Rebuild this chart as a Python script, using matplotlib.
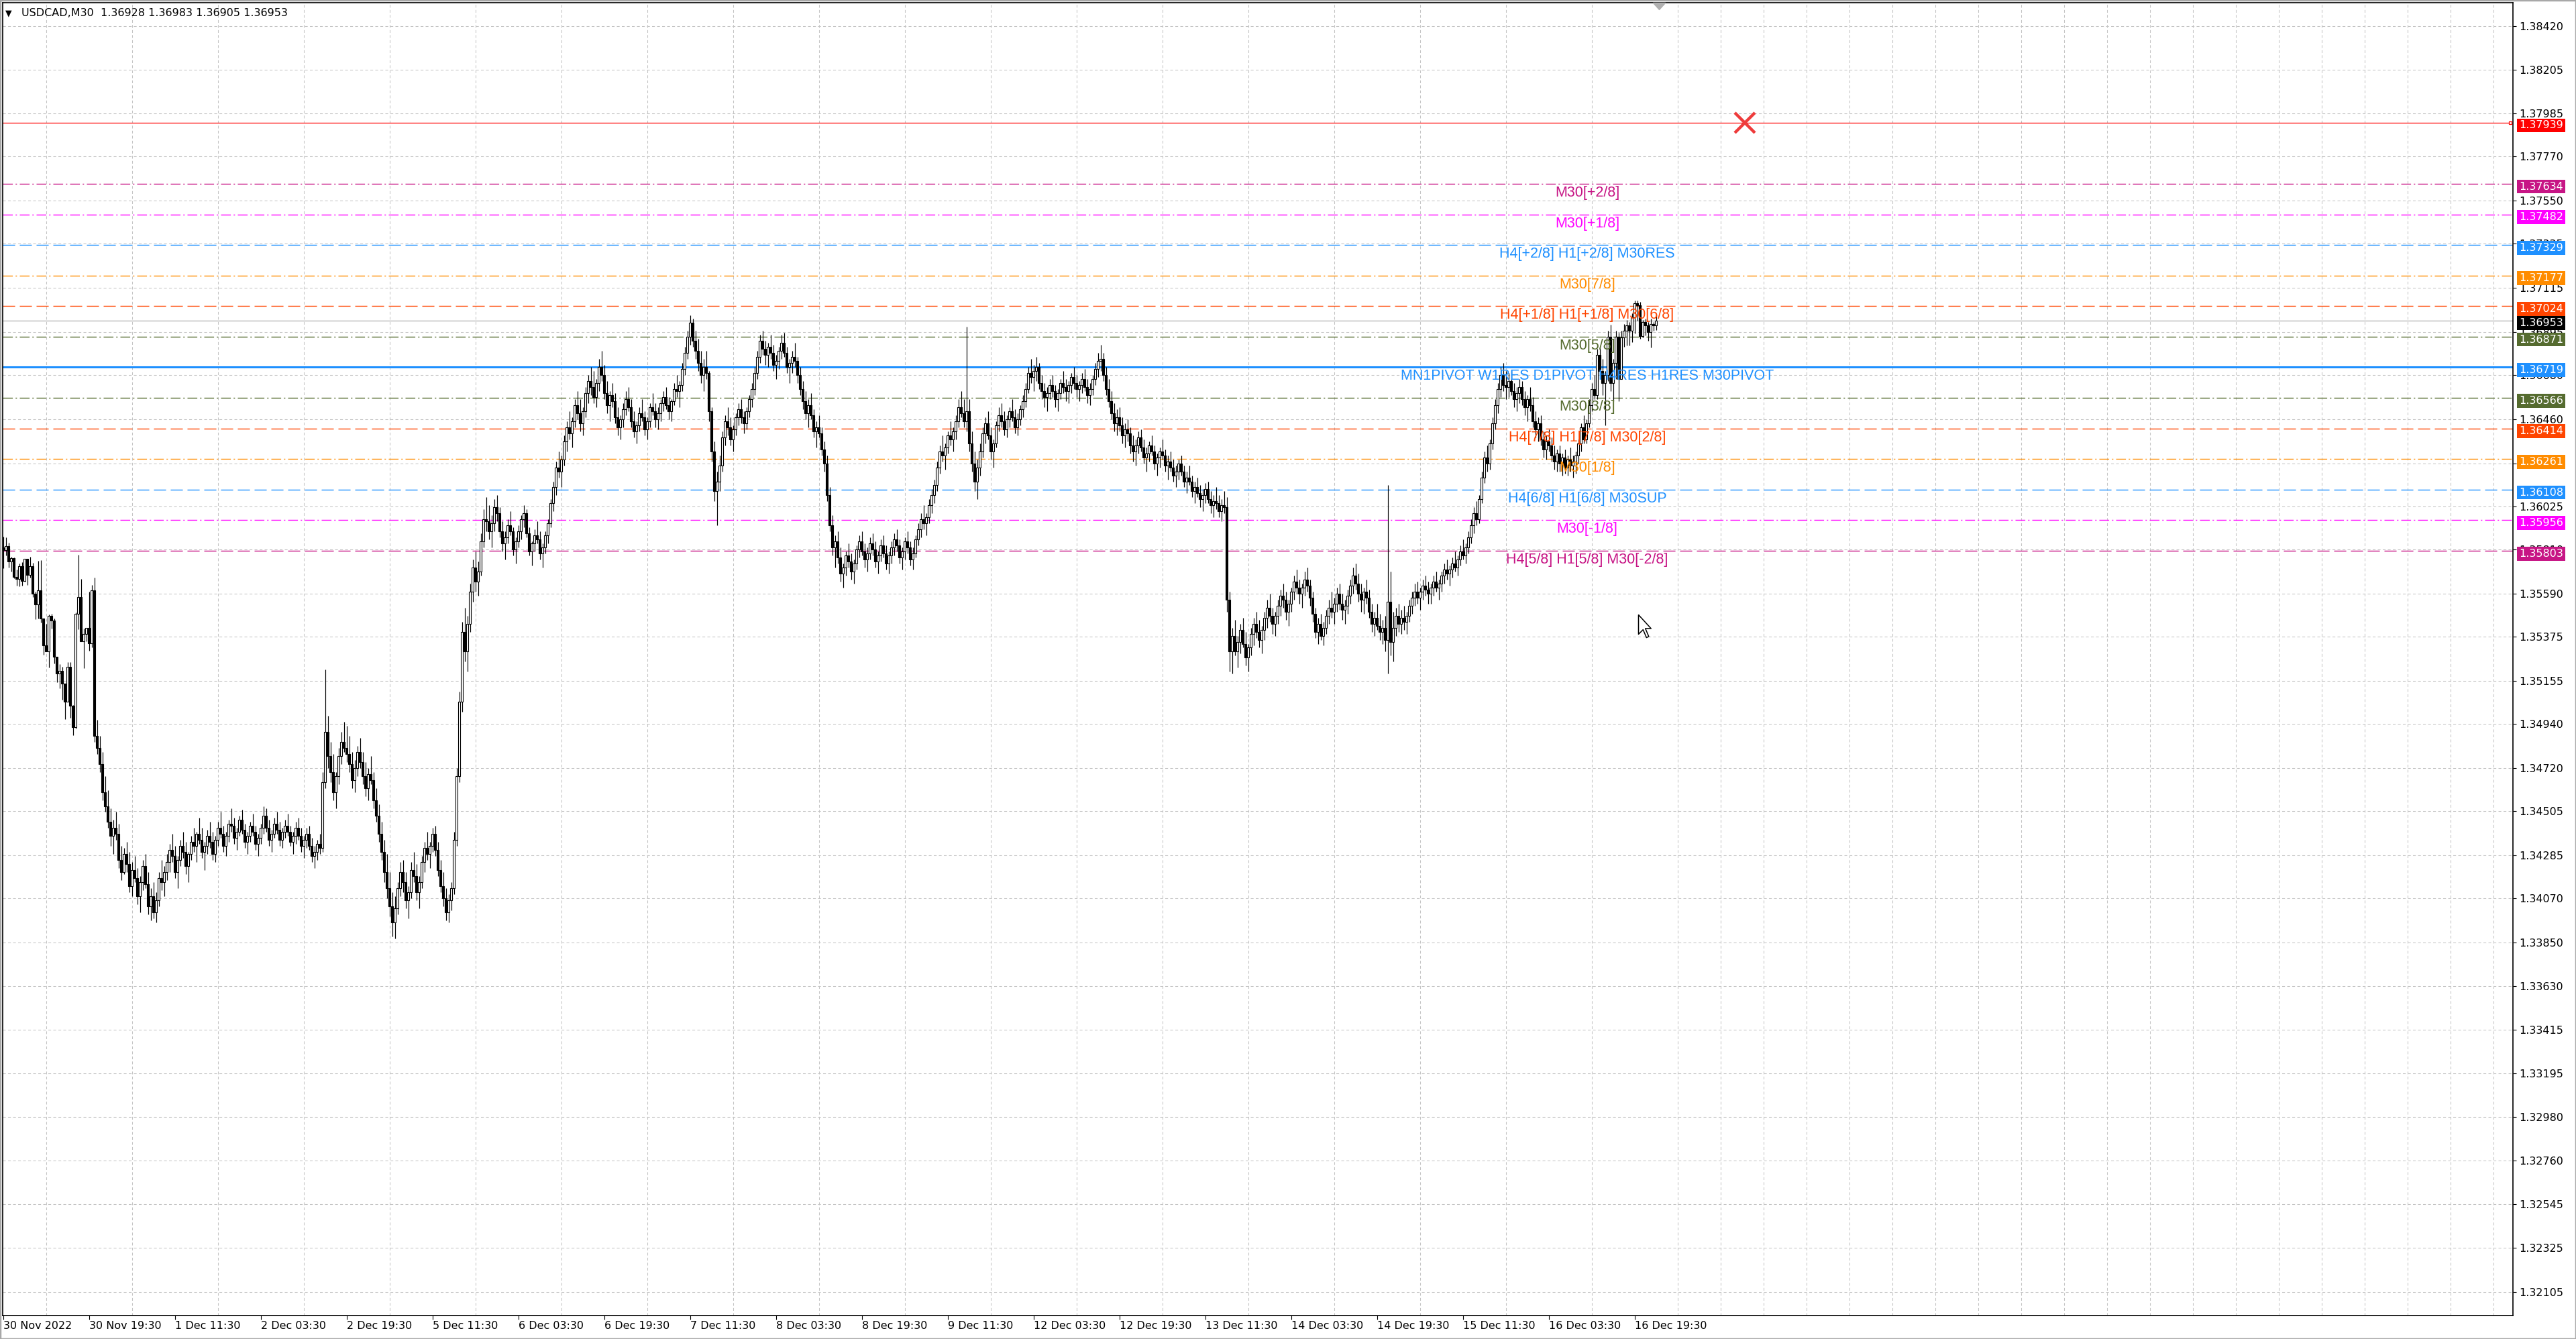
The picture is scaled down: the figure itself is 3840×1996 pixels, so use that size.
import matplotlib
matplotlib.use("Agg")
import matplotlib.pyplot as plt
import matplotlib.transforms as mtransforms
from matplotlib import font_manager
from matplotlib.path import Path
import numpy as np

# USDCAD M30 candles, 617 bars. Values are points above 1.30000 (1 point = 0.00001).
# Open of each bar = close of the bar before it.
first_open = 5819
closes = [
    # 0-33
    5807, 5827, 5749, 5767, 5673, 5662, 5727, 5654, 5763, 5682, 5727, 5589, 5537, 5607, 5467, 5333, 5303,
    5478, 5454, 5274, 5192, 5205, 5140, 5052, 5225, 5032, 4923, 5489, 5573, 5352, 5389, 5419, 5341, 5607,
    # 34-60
    4880, 4820, 4740, 4600, 4530, 4450, 4380, 4420, 4390, 4260, 4200, 4290,
    4240, 4130, 4210, 4170, 4080, 4150, 4230, 4140, 4030, 4080, 4000, 4060, 4170, 4150, 4200,
    # 61-118
    4250, 4310, 4280, 4200, 4260, 4330, 4300, 4230, 4290, 4350, 4330, 4390, 4360, 4300, 4330, 4380, 4350, 4290,
    4360, 4420, 4390, 4330, 4380, 4440, 4430, 4370, 4400, 4460, 4410, 4350, 4380, 4430, 4400, 4340, 4370, 4420,
    4480, 4420, 4360, 4390, 4440, 4410, 4360, 4400, 4430, 4400, 4350, 4380, 4420, 4380, 4330, 4360, 4390, 4330,
    4280, 4300, 4340, 4320,
    # 119-167
    4650, 4900, 4780, 4700, 4600, 4680, 4780, 4850, 4820, 4790, 4740, 4660, 4720, 4800, 4750, 4680, 4620, 4690,
    4660, 4560, 4480, 4390, 4300, 4200, 4120, 4030, 3950, 4020, 4120, 4200, 4150, 4060, 4100, 4210, 4180, 4100,
    4150, 4250, 4320, 4290, 4330, 4390, 4310, 4210, 4130, 4070, 4000, 4060, 4120,
    # 168-199
    4360, 4680, 5050, 5400, 5300, 5440, 5600, 5720, 5650, 5700, 5850, 5960, 5950, 5900, 5940, 6020,
    5990, 5900, 5840, 5870, 5930, 5900, 5810, 5850, 5900, 5960, 5990, 5890, 5800, 5840, 5880, 5860,
    # 200-244
    5790, 5820, 5880, 5940, 6040, 6120, 6220, 6200, 6260, 6350, 6420, 6390, 6450, 6530, 6490, 6440, 6500, 6590,
    6650, 6620, 6570, 6640, 6720, 6680, 6590, 6530, 6580, 6550,
    6470, 6420, 6460, 6510, 6560, 6520, 6450, 6400, 6430, 6490, 6470, 6410, 6450, 6520, 6500, 6460, 6490,
    # 245-306
    6540, 6570, 6530, 6500, 6550, 6610, 6600, 6630, 6710, 6790, 6870, 6940, 6850, 6800, 6740, 6680, 6720, 6690,
    6500, 6300, 6100, 6150, 6230, 6370, 6450, 6420, 6360, 6410, 6470, 6510, 6470, 6440, 6500, 6560, 6610, 6690,
    6770, 6850, 6810, 6780, 6820, 6790, 6730, 6750, 6800, 6840, 6790, 6720, 6740, 6770, 6750, 6680, 6610, 6550,
    6490, 6530, 6480, 6400, 6420, 6390, 6310, 6240,
    # 307-365
    6080, 5930, 5820, 5850, 5770, 5690, 5720, 5780, 5750, 5700, 5740, 5810, 5850, 5800, 5760, 5790, 5840, 5810,
    5750, 5780, 5830, 5790, 5740, 5780, 5820, 5860, 5830, 5770, 5800, 5850, 5820, 5760, 5790, 5860, 5910, 5960,
    5940, 5970, 6030, 6080, 6130,
    6220, 6300, 6280, 6320, 6380, 6360, 6400, 6450, 6520, 6490, 6450, 6500, 6340, 6240, 6150, 6220, 6300, 6390,
    # 366-413
    6440, 6380, 6300, 6340, 6430, 6480, 6450, 6410, 6460, 6500, 6470, 6420, 6460, 6510, 6550, 6610, 6690, 6670,
    6700, 6720, 6640, 6600, 6570, 6590,
    6630, 6600, 6560, 6590, 6640, 6620, 6600, 6630, 6670, 6640, 6610, 6630, 6660, 6620, 6580, 6610, 6660, 6710,
    6750, 6760, 6680, 6610, 6550, 6490,
    # 414-455
    6440, 6470, 6430, 6380, 6410, 6390, 6330, 6300, 6330, 6370, 6320, 6270, 6290, 6330, 6300, 6240, 6270, 6300,
    6280, 6230, 6250, 6220, 6180, 6200, 6240, 6200, 6150, 6170, 6150, 6100, 6120, 6090, 6060, 6080, 6110, 6060,
    6030, 6050, 6040, 6000, 6030, 6020,
    # 456-515
    5560, 5300, 5380, 5300, 5350, 5410, 5340, 5270, 5320, 5390, 5440, 5400, 5360, 5410, 5470, 5520, 5480, 5440,
    5480, 5530, 5580, 5560, 5500, 5540, 5600, 5650, 5620, 5590, 5620, 5660, 5630, 5570,
    5490, 5400, 5440, 5380, 5420, 5480, 5520, 5500, 5540, 5590, 5540, 5510, 5530, 5580, 5630, 5680, 5640, 5590,
    5560, 5600, 5570, 5500, 5440, 5470, 5430, 5400, 5420, 5360,
    # 516-560
    5550, 5350, 5420, 5480, 5440, 5470, 5450, 5480, 5530, 5570, 5600, 5570, 5600, 5630, 5610, 5590, 5620, 5650,
    5620, 5640, 5680, 5710, 5690, 5710,
    5740, 5720, 5760, 5800, 5780, 5820, 5870, 5930, 5990, 5960, 6060, 6170, 6270, 6240, 6340, 6440, 6530, 6610,
    6680, 6630, 6620,
    # 561-616
    6650, 6600, 6560, 6590, 6620, 6560, 6520, 6560, 6530, 6450, 6410, 6440, 6360, 6310, 6350, 6330, 6280, 6250,
    6290,
    6240, 6270, 6220, 6260, 6230, 6250, 6280, 6340, 6420, 6360, 6440, 6530, 6610, 6580, 6780, 6700, 6640, 6680,
    6870,
    6640, 6740, 6870, 6660, 6867, 6901, 6928, 6901, 6968, 7037, 7029, 6873, 6945, 6928, 6895, 6936, 6928, 6953,
]
highs = [
    5874, 5869, 5844, 5774, 5771, 5710, 5740, 5746, 5765, 5765, 5772, 5744, 5601, 5755, 5757, 5467, 5439,
    5486, 5489, 5464, 5274, 5238, 5225, 5140, 5247, 5247, 5034, 5495, 5783, 5662, 5417, 5419, 5598, 5632,
    5670, 4960, 4880, 4800, 4680, 4610, 4520, 4460, 4500, 4440, 4330, 4320,
    4350, 4300, 4250, 4280, 4220, 4180, 4260, 4290, 4200, 4120, 4150, 4100, 4200, 4260, 4230,
    4290, 4340, 4390, 4330, 4280, 4360, 4400, 4350, 4300, 4380, 4420, 4400, 4470, 4420, 4350, 4410, 4450, 4400,
    4380, 4450, 4500, 4430, 4400, 4460, 4520, 4470, 4420, 4480, 4510, 4440, 4400, 4450, 4490, 4430, 4390, 4440,
    4530, 4520, 4460, 4410, 4470, 4500, 4450, 4420, 4460, 4490, 4430, 4400, 4450, 4470, 4420, 4380, 4420, 4430,
    4370, 4330, 4360, 4390,
    4700, 5210, 4980, 4850, 4790, 4700, 4820, 4900, 4950, 4930, 4880, 4800, 4760, 4830, 4870, 4800, 4750, 4720,
    4780, 4700, 4620, 4540, 4450, 4360, 4290, 4200, 4100, 4080, 4150, 4250, 4260, 4200, 4130, 4250, 4300, 4240,
    4180, 4280, 4350, 4400, 4350, 4420, 4430, 4350, 4260, 4200, 4120, 4090, 4150,
    4400, 4720, 5100, 5450, 5520, 5480, 5640, 5760, 5800, 5750, 5890, 6010, 6070, 6030, 5980, 6060,
    6080, 6020, 5950, 5900, 5960, 6000, 5920, 5870, 5930, 5980, 6030, 6010, 5920, 5850, 5910, 5950,
    5900, 5840, 5900, 5960, 6060, 6150, 6250, 6300, 6280, 6380, 6450, 6500, 6470, 6560, 6600, 6560, 6520, 6620,
    6680, 6720, 6700, 6660, 6760, 6800, 6730, 6650, 6600, 6640,
    6590, 6520, 6480, 6540, 6600, 6620, 6560, 6500, 6450, 6520, 6560, 6500, 6470, 6540, 6590, 6540, 6520,
    6560, 6600, 6620, 6570, 6560, 6640, 6680, 6650, 6740, 6820, 6900, 6980, 6960, 6900, 6860, 6800, 6760, 6800,
    6700, 6520, 6350, 6200, 6280, 6400, 6480, 6520, 6470, 6430, 6490, 6540, 6560, 6500, 6520, 6580, 6640, 6720,
    6800, 6880, 6900, 6850, 6840, 6880, 6830, 6780, 6820, 6880, 6890, 6820, 6760, 6800, 6840, 6770, 6720, 6650,
    6600, 6560, 6590, 6510, 6450, 6480, 6420, 6350,
    6280, 6120, 5980, 5880, 5900, 5820, 5740, 5800, 5840, 5790, 5760, 5830, 5880, 5900, 5840, 5820, 5870, 5890,
    5850, 5800, 5860, 5880, 5830, 5800, 5850, 5890, 5910, 5860, 5820, 5870, 5900, 5850, 5820, 5880, 5940, 5990,
    6030, 5990, 6060, 6110, 6160,
    6250, 6330, 6380, 6340, 6400, 6450, 6420, 6480, 6560, 6600, 6560, 6920, 6560, 6400, 6300, 6260, 6340, 6420,
    6470, 6500, 6420, 6360, 6450, 6520, 6540, 6500, 6480, 6520, 6560, 6510, 6490, 6530, 6580, 6640, 6720, 6760,
    6730, 6770, 6740, 6680, 6640, 6620,
    6660, 6680, 6630, 6610, 6660, 6700, 6660, 6650, 6690, 6720, 6680, 6650, 6690, 6710, 6660, 6640, 6680, 6740,
    6790, 6830, 6790, 6720, 6660, 6600,
    6540, 6510, 6520, 6470, 6440, 6460, 6420, 6380, 6360, 6400, 6410, 6360, 6320, 6350, 6380, 6330, 6290, 6320,
    6360, 6310, 6280, 6300, 6260, 6230, 6260, 6280, 6230, 6200, 6230, 6180, 6150, 6170, 6130, 6110, 6140, 6150,
    6100, 6080, 6120, 6080, 6060, 6100,
    6070, 5600, 5420, 5460, 5380, 5440, 5470, 5400, 5340, 5420, 5470, 5500, 5460, 5430, 5500, 5560, 5590, 5520,
    5500, 5560, 5610, 5640, 5600, 5560, 5620, 5680, 5710, 5660, 5640, 5700, 5720, 5660,
    5600, 5520, 5470, 5490, 5450, 5510, 5560, 5600, 5570, 5620, 5640, 5590, 5560, 5610, 5660, 5720, 5740, 5690,
    5640, 5620, 5660, 5610, 5540, 5500, 5540, 5490, 5460, 5480,
    6130, 5700, 5500, 5520, 5540, 5510, 5530, 5500, 5560, 5600, 5640, 5650, 5620, 5660, 5680, 5650, 5640, 5680,
    5700, 5660, 5700, 5740, 5760, 5730,
    5770, 5800, 5780, 5830, 5860, 5840, 5900, 5960, 6020, 6050, 6080, 6200, 6300, 6330, 6360, 6470, 6560, 6640,
    6720, 6740, 6700,
    6690, 6700, 6640, 6620, 6660, 6650, 6600, 6580, 6620, 6570, 6500, 6470, 6480, 6400, 6380, 6410, 6370, 6330,
    6310,
    6330, 6290, 6310, 6280, 6320, 6280, 6300, 6360, 6440, 6480, 6460, 6560, 6640, 6680, 6810, 6820, 6760, 6700,
    6900,
    6930, 6760, 6900, 6890, 6900, 6934, 6956, 6945, 6990, 7051, 7051, 7046, 6956, 6962, 6945, 6962, 6945, 6983,
]
lows = [
    5718, 5779, 5721, 5701, 5668, 5631, 5626, 5631, 5650, 5634, 5671, 5573, 5461, 5467, 5447, 5286, 5300,
    5222, 5417, 5242, 5149, 5116, 5060, 4965, 5052, 4971, 4884, 4918, 5411, 5352, 5219, 5352, 5305, 5322,
    4850, 4790, 4700, 4560, 4500, 4420, 4330, 4290, 4360, 4220, 4160, 4190,
    4200, 4100, 4080, 4150, 4040, 4000, 4110, 4120, 3990, 3960, 3970, 3950, 4030, 4110, 4080,
    4160, 4200, 4250, 4170, 4120, 4230, 4270, 4190, 4150, 4260, 4300, 4250, 4340, 4270, 4210, 4290, 4320, 4260,
    4250, 4330, 4370, 4300, 4280, 4350, 4400, 4340, 4310, 4380, 4390, 4320, 4290, 4350, 4380, 4310, 4280, 4340,
    4390, 4400, 4330, 4300, 4370, 4390, 4330, 4320, 4370, 4380, 4330, 4290, 4340, 4360, 4300, 4270, 4320, 4310,
    4250, 4220, 4260, 4290,
    4300, 4620, 4720, 4650, 4560, 4520, 4640, 4740, 4800, 4750, 4700, 4620, 4600, 4680, 4720, 4640, 4580, 4560,
    4640, 4520, 4450, 4350, 4260, 4150, 4070, 3980, 3880, 3870, 3990, 4080, 4100, 4020, 3970, 4070, 4150, 4060,
    4020, 4120, 4200, 4260, 4220, 4300, 4280, 4180, 4100, 4030, 3960, 3950, 4010,
    4090, 4330, 4650, 5000, 5250, 5200, 5400, 5550, 5600, 5580, 5680, 5820, 5900, 5860, 5820, 5900,
    5950, 5870, 5800, 5760, 5840, 5880, 5780, 5740, 5820, 5860, 5920, 5870, 5780, 5730, 5800, 5840,
    5760, 5720, 5790, 5840, 5920, 6000, 6080, 6170, 6120, 6230, 6300, 6360, 6320, 6420, 6460, 6400, 6380, 6470,
    6540, 6580, 6540, 6520, 6600, 6650, 6560, 6490, 6450, 6520,
    6440, 6380, 6360, 6420, 6480, 6500, 6420, 6370, 6340, 6400, 6450, 6380, 6360, 6420, 6480, 6420, 6410,
    6450, 6500, 6510, 6460, 6450, 6530, 6570, 6520, 6600, 6680, 6760, 6830, 6820, 6760, 6700, 6640, 6600, 6660,
    6450, 6250, 6050, 5930, 6100, 6200, 6330, 6380, 6330, 6300, 6380, 6430, 6440, 6390, 6410, 6470, 6520, 6580,
    6660, 6740, 6780, 6730, 6720, 6760, 6700, 6660, 6710, 6760, 6770, 6690, 6640, 6690, 6720, 6640, 6580, 6510,
    6460, 6420, 6460, 6370, 6320, 6370, 6280, 6200,
    6050, 5900, 5780, 5720, 5740, 5650, 5620, 5680, 5720, 5660, 5640, 5710, 5770, 5780, 5720, 5700, 5760, 5780,
    5720, 5690, 5750, 5770, 5710, 5690, 5740, 5780, 5800, 5740, 5710, 5760, 5790, 5730, 5710, 5770, 5830, 5870,
    5910, 5880, 5940, 5990, 6040,
    6100, 6190, 6250, 6210, 6290, 6330, 6300, 6360, 6420, 6470, 6420, 6400, 6300, 6200, 6100, 6060, 6180, 6270,
    6340, 6360, 6260, 6220, 6320, 6400, 6420, 6380, 6370, 6420, 6450, 6390, 6380, 6430, 6470, 6520, 6590, 6640,
    6600, 6650, 6610, 6560, 6520, 6500,
    6560, 6570, 6520, 6500, 6560, 6590, 6550, 6540, 6590, 6610, 6570, 6550, 6590, 6600, 6540, 6530, 6580, 6630,
    6670, 6700, 6650, 6580, 6520, 6460,
    6400, 6380, 6400, 6340, 6320, 6350, 6290, 6250, 6230, 6290, 6300, 6240, 6200, 6250, 6280, 6210, 6180, 6220,
    6260, 6200, 6160, 6200, 6150, 6120, 6160, 6180, 6120, 6090, 6130, 6070, 6040, 6070, 6020, 6000, 6040, 6040,
    5990, 5970, 6010, 5970, 5950, 5990,
    5500, 5200, 5190, 5280, 5220, 5290, 5320, 5230, 5200, 5280, 5330, 5370, 5320, 5290, 5360, 5420, 5450, 5390,
    5380, 5440, 5480, 5520, 5460, 5430, 5500, 5560, 5590, 5540, 5520, 5580, 5600, 5530,
    5450, 5370, 5340, 5360, 5330, 5390, 5440, 5470, 5440, 5500, 5510, 5460, 5440, 5490, 5540, 5590, 5610, 5550,
    5500, 5490, 5540, 5470, 5400, 5380, 5410, 5360, 5340, 5300,
    5190, 5280, 5250, 5380, 5400, 5390, 5410, 5390, 5450, 5490, 5530, 5540, 5510, 5560, 5580, 5540, 5540, 5580,
    5600, 5560, 5600, 5640, 5660, 5630,
    5670, 5700, 5680, 5730, 5760, 5740, 5790, 5840, 5890, 5930, 5940, 6040, 6140, 6200, 6210, 6310, 6410, 6490,
    6570, 6600, 6560,
    6570, 6580, 6520, 6500, 6540, 6530, 6480, 6450, 6500, 6420, 6370, 6350, 6330, 6270, 6260, 6300, 6250, 6210,
    6200,
    6200, 6180, 6190, 6180, 6200, 6170, 6190, 6240, 6300, 6340, 6340, 6420, 6500, 6560, 6560, 6680, 6580, 6430,
    6650,
    6600, 6550, 6660, 6550, 6660, 6822, 6828, 6828, 6845, 6889, 6951, 6862, 6867, 6878, 6850, 6817, 6901, 6905,
]

time_labels = ["30 Nov 2022", "30 Nov 19:30", "1 Dec 11:30", "2 Dec 03:30", "2 Dec 19:30",
               "5 Dec 11:30", "6 Dec 03:30", "6 Dec 19:30", "7 Dec 11:30", "8 Dec 03:30",
               "8 Dec 19:30", "9 Dec 11:30", "12 Dec 03:30", "12 Dec 19:30", "13 Dec 11:30",
               "14 Dec 03:30", "14 Dec 19:30", "15 Dec 11:30", "16 Dec 03:30", "16 Dec 19:30"]
price_ticks = ["1.38420", "1.38205", "1.37985", "1.37770", "1.37550", "1.37335", "1.37115",
               "1.36895", "1.36680", "1.36460", "1.36240", "1.36025", "1.35810", "1.35590",
               "1.35375", "1.35155", "1.34940", "1.34720", "1.34505", "1.34285", "1.34070",
               "1.33850", "1.33630", "1.33415", "1.33195", "1.32980", "1.32760", "1.32545",
               "1.32325", "1.32105"]

# Murrey math levels
levels = [1.37634, 1.37482, 1.37329, 1.37177, 1.37024, 1.36871, 1.36719,
          1.36566, 1.36414, 1.36261, 1.36108, 1.35956, 1.35803]
level_names = ["M30[+2/8]", "M30[+1/8]", "H4[+2/8] H1[+2/8] M30RES", "M30[7/8]",
               "H4[+1/8] H1[+1/8] M30[6/8]", "M30[5/8]",
               "MN1PIVOT W1RES D1PIVOT H4RES H1RES M30PIVOT", "M30[3/8]",
               "H4[7/8] H1[7/8] M30[2/8]", "M30[1/8]", "H4[6/8] H1[6/8] M30SUP",
               "M30[-1/8]", "H4[5/8] H1[5/8] M30[-2/8]"]
level_colors = ["#C71585", "#FF00FF", "#1E90FF", "#FF8C00", "#FF4500", "#556B2F", "#1E90FF",
                "#556B2F", "#FF4500", "#FF8C00", "#1E90FF", "#FF00FF", "#C71585"]
level_kinds = ["dashdot", "dashdot", "dash", "dashdot", "dash", "dashdot", "solid",
               "dashdot", "dash", "dashdot", "dash", "dashdot", "dash"]

stop_price = 1.37939
bid_price = 1.36953
header = "USDCAD,M30  1.36928 1.36983 1.36905 1.36953"

W, H = 3840, 1996
plt.rcParams["lines.scale_dashes"] = False


def pick(fam, fallback):
    try:
        font_manager.findfont(font_manager.FontProperties(family=fam), fallback_to_default=False)
        return fam
    except Exception:
        return fallback


ui_font = pick("Liberation Sans Narrow", "DejaVu Sans")
ui_size = 15.5 if ui_font == "Liberation Sans Narrow" else 11.5
lbl_font = pick("Liberation Sans", "DejaVu Sans")

fig = plt.figure(figsize=(W / 100, H / 100), dpi=100, facecolor="white")
ax = fig.add_axes([4 / W, (H - 1961) / H, (3746 - 4) / W, (1961 - 4) / H])
ax.set_facecolor("white")

n = min(len(closes), len(highs), len(lows))
c = 1.3 + np.array(closes[:n]) / 1e5
o = np.concatenate([[1.3 + first_open / 1e5], c[:-1]])
h = np.maximum(1.3 + np.array(highs[:n]) / 1e5, np.maximum(o, c))
l = np.minimum(1.3 + np.array(lows[:n]) / 1e5, np.minimum(o, c))
x = np.arange(n)

ax.set_xlim(-0.175, 935.3)
ax.set_ylim(1.31988, 1.385381)

# axes, ticks, grid
tick_vals = [float(t) for t in price_ticks]
ax.set_yticks(tick_vals)
ax.set_yticklabels(price_ticks)
ax.yaxis.tick_right()
ax.set_xticks(np.arange(len(time_labels)) * 32)
ax.set_xticklabels(time_labels, ha="left")
ax.set_xticks(np.arange(0, 936, 16), minor=True)
ax.tick_params(axis="x", which="minor", length=0)
ax.tick_params(axis="x", which="major", length=4, width=0.8, pad=1.5,
               labelsize=ui_size, labelfontfamily=ui_font)
ax.tick_params(axis="y", length=3.5, width=0.8, pad=3,
               labelsize=ui_size, labelfontfamily=ui_font)
grid_kw = dict(color="#C4C4C4", linewidth=0.75, dashes=(3, 2.4))
ax.grid(True, axis="y", which="major", **grid_kw)
ax.grid(True, axis="x", which="minor", **grid_kw)
ax.set_axisbelow(True)
for s in ax.spines.values():
    s.set_linewidth(1.2)
    s.set_color("black")

yblend = mtransforms.blended_transform_factory(ax.transAxes, ax.transData)


def price_box(value, color, z):
    ax.annotate(f"{value:.5f}", xy=(1.0024, value), xycoords=yblend, xytext=(0, -4),
                textcoords="offset pixels", ha="left", va="center", color="white",
                fontsize=ui_size, family=ui_font, zorder=z, annotation_clip=False,
                bbox=dict(boxstyle="square,pad=0.18", fc=color, ec="none"))


# levels
styles = {"dash": dict(dashes=(13, 5)), "dashdot": dict(dashes=(10.5, 3, 1.5, 3)),
          "solid": dict(linestyle="-")}
for lv, name, col, kind in zip(levels, level_names, level_colors, level_kinds):
    lw = 2.2 if kind == "solid" else 1.0
    ax.axhline(lv, color=col, linewidth=lw, zorder=1.5, **styles[kind])
    ax.annotate(name, xy=(590.3, lv), xytext=(0, -3), textcoords="offset pixels",
                ha="center", va="top", color=col, fontsize=15.5, family=lbl_font, zorder=4)
    price_box(lv, col, 7)

ax.axhline(stop_price, color="#FF0000", linewidth=0.9, zorder=1.6)
ax.plot([934.3], [stop_price], marker="s", ms=3.5, mfc="white", mec="#FF0000", mew=0.9, zorder=3)
ax.plot([649], [stop_price], marker="x", ms=22, mew=3.2, color="#EE3B3B", zorder=5)
price_box(stop_price, "#FF0000", 7)

ax.axhline(bid_price, color="#B8B8B8", linewidth=1.0, zorder=1.6)
price_box(bid_price, "black", 6)

# candles
up = c >= o
ax.vlines(x, l, h, color="black", linewidth=0.85, zorder=3)
body_lo = np.minimum(o, c)
body_h = np.maximum(np.abs(c - o), 0.000012)
ax.bar(x[up], body_h[up], bottom=body_lo[up], width=0.72, facecolor="white",
       edgecolor="black", linewidth=0.8, zorder=3.2)
ax.bar(x[~up], body_h[~up], bottom=body_lo[~up], width=0.72, facecolor="black",
       edgecolor="black", linewidth=0.8, zorder=3.2)

# chart-shift marker and mouse cursor
tri = Path([(-1, 0.55), (1, 0.55), (0, -0.55), (-1, 0.55)])
xblend = mtransforms.blended_transform_factory(ax.transData, ax.transAxes)
ax.plot([617], [1 - 5 / 1957], transform=xblend, marker=tri, ms=13, color="#B0B0B0",
        clip_on=False, zorder=8)
cursor = Path([(0, 0), (0, -17), (4, -13), (7, -20), (9, -19), (6, -12), (11, -12), (0, 0)])
ax.plot([609.3], [1.35486], marker=cursor, ms=49, mfc="white", mec="black", mew=1.1, zorder=9)

# header
fig.text(8 / W, 1 - 20 / H, "\u25bc", family="DejaVu Sans", fontsize=9, va="center")
fig.text(32 / W, 1 - 20 / H, header, family=ui_font, fontsize=ui_size, va="center")

# window frame
fig.add_artist(plt.Rectangle((0, 0), 1, 1, transform=fig.transFigure, fill=False,
                             edgecolor="#A8A8A8", linewidth=2.5))

fig.savefig("out.png", dpi=100, facecolor="white")
